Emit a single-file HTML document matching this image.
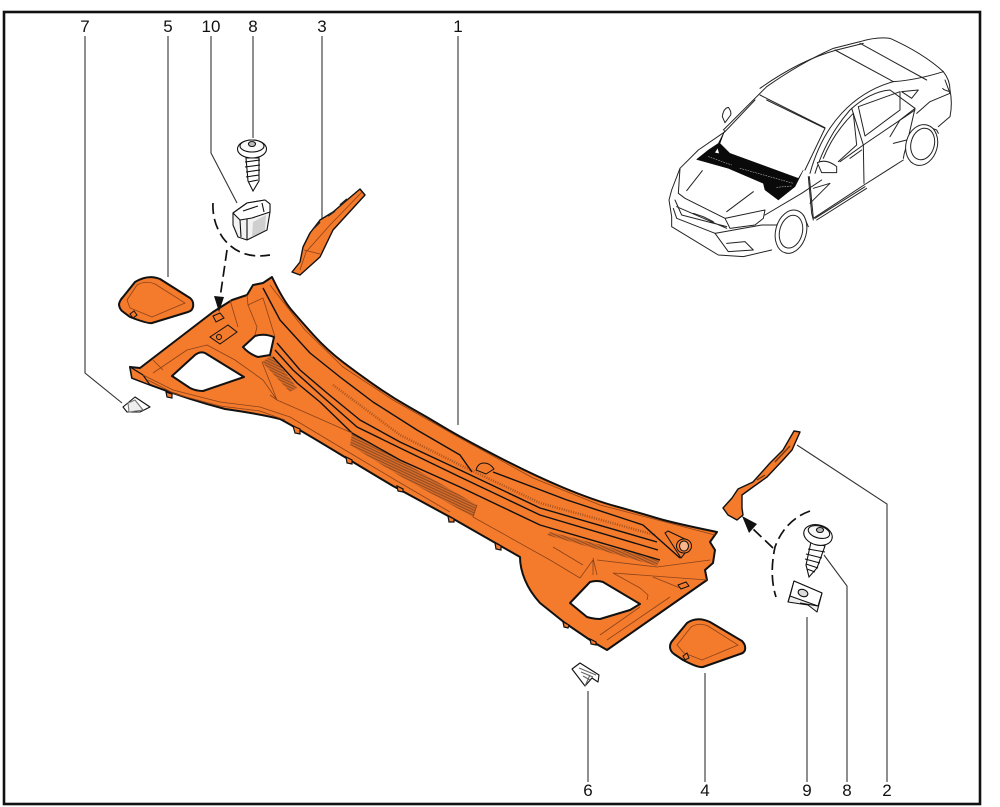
<!DOCTYPE html>
<html>
<head>
<meta charset="utf-8">
<style>
html,body{margin:0;padding:0;background:#fff;width:1000px;height:807px;overflow:hidden}
svg{display:block}
text{font-family:"Liberation Sans",sans-serif;font-size:17px;fill:#111;text-anchor:middle}
</style>
</head>
<body>
<svg width="1000" height="807" viewBox="0 0 1000 807" xmlns="http://www.w3.org/2000/svg">
<defs>
<pattern id="h" width="2.4" height="2.4" patternUnits="userSpaceOnUse" patternTransform="rotate(25)">
<rect width="2.4" height="2.4" fill="#d56a28"/><rect width="2.4" height=".9" fill="#8a4a22"/>
</pattern>
</defs>
<rect width="1000" height="807" fill="#fff"/>
<rect x="4" y="12" width="976" height="792" fill="none" stroke="#111" stroke-width="2.6"/>

<!-- labels -->
<text x="85" y="32">7</text><text x="168" y="32">5</text><text x="211" y="32">10</text>
<text x="253" y="32">8</text><text x="322" y="32">3</text><text x="458" y="32">1</text>
<text x="588" y="796">6</text><text x="705" y="796">4</text><text x="807" y="796">9</text>
<text x="847" y="796">8</text><text x="887" y="796">2</text>

<!-- leaders -->
<g fill="none" stroke="#333" stroke-width="1.1">
<path d="M85 36V373L122 403"/>
<path d="M168 36V277"/>
<path d="M211 36V153L237 203"/>
<path d="M253 36V138"/>
<path d="M322 36V219"/>
<path d="M458 36V425"/>
<path d="M588 782V691"/>
<path d="M705 782V673"/>
<path d="M807 782V617"/>
<path d="M847 782V586L824 555"/>
<path d="M887 782V504L797 445"/>
</g>

<!-- main cowl panel -->
<path fill="#f47a2c" fill-rule="evenodd" stroke="#111" stroke-width="2" stroke-linejoin="round" d="M130 367L140 368L213 312L232 300L247 295L253 285L263 283L272 277Q283 300 291.5 310Q300 320 313.5 335Q327 350 343.5 362.5Q360 375 376.5 386.5Q393 398 410 407.5Q427 417 443.5 427Q460 437 496.5 456Q533 475 563 487.5Q593 500 616.5 506.5Q640 513 656.5 518Q673 523 717 532L710 542L715 550L713 563L705 570L707 580L607 650L593 642L565 623L540 603Q530 592 525 580Q520 568 520 557L450 517L393 486L343 456Q297 428 280 419Q260 414 225 409Q190 400 153 386L132 378Z
M172 376L195 355Q200 351 205 353L244 377L203 391Q196 391 190 388Z
M243 347L255 336Q264 333 274 337L270 355L258 357Q249 354 243 347Z
M570 603L590 582Q597 580 603 582L640 604L630 610L600 619Q594 619 587 617Z"/>

<!-- tabs on lower edge -->
<g fill="#f47a2c" stroke="#111" stroke-width="1.2">
<path d="M293 426L295 433L300 434L300 429Z"/>
<path d="M346 457L347 463L352 464L352 460Z"/>
<path d="M397 486L398 491L403 492L403 489Z"/>
<path d="M448 516L449 522L454 522L454 519Z"/>
<path d="M495 543L496 549L501 550L501 546Z"/>
<path d="M563 622L564 627L568 628L569 625Z"/>
<path d="M590 639L591 644L596 645L596 642Z"/>
<path d="M166 392L167 397L172 398L172 394Z"/>
<path d="M130 367L132 378L150 385L143 375Z"/>
</g>

<!-- hatch areas -->
<path fill="url(#h)" d="M547 535L550 532L660 560L657 566Z"/>
<path fill="url(#h)" d="M352 433L400 460L477 505L473 517L400 476L350 445Z"/>
<path fill="url(#h)" d="M262 362L272 355L297 388L290 392Z"/>

<!-- dotted bands -->
<g fill="none" stroke="#a9551f" stroke-width="2.6" stroke-dasharray="1 1.4">
<path d="M333 385L400 435L460 465L540 503L655 535"/>
</g>

<!-- panel black grooves -->
<g fill="none" stroke="#111" stroke-width="1.4" stroke-linejoin="round">
<path d="M263 288L280 320L310 353L340 377L373 402L417 430L460 455L472 472"/>
<path d="M493 472L567 500L643 525L680 558"/>
<path d="M277 343L300 370L327 393L360 420L400 442L460 470L540 508L657 542"/>
<path d="M275 350L293 370L323 397L357 427L400 448L460 477L540 515L658 550"/>
<path d="M273 357L297 383L320 402L352 433L400 460L460 487L540 525L660 560"/>
</g>
<!-- thin orange lines -->
<g fill="none" stroke="#8a431a" stroke-width=".8" stroke-linejoin="round">
<path d="M270 285L305 330L343 367L393 400L460 438L533 478L600 505L715 535"/>
<path d="M153 373L187 350L207 345L235 360L263 380L277 400L352 433"/>
<path d="M163 370L153 360"/>
<path d="M143 375L173 390L220 402L260 407L290 417L350 453L397 481L450 512"/>
<path d="M148 380L175 394L220 406L260 411L285 420"/>
<path d="M247 295L248 305L263 298L275 337"/>
<path d="M230 300L238 327M248 305L257 327L255 335"/>
<path d="M262 362L277 400L270 395"/>
<path d="M553 547L583 565M550 560L580 578L593 560V575M593 558L597 575M597 560L657 567L710 560"/>
<path d="M613 573L640 588L648 595L647 600M613 573L707 580M653 577L680 588"/>
<path d="M600 635L640 607M607 640L670 597"/>
<path d="M477 505L473 517L550 560"/>
</g>
<g fill="#f47a2c" stroke="#111" stroke-width="1">
<path d="M476 470Q478 463 484 463Q490 463 494 469L486 474Z"/>
<path d="M665 533L668 531L687 540L690 547L681 558Z"/>
<ellipse cx="684" cy="546" rx="7.5" ry="7"/>
<ellipse cx="684" cy="546" rx="4.5" ry="5" fill="#f9b68a"/>
<path d="M213 316L220 313L224 318L216 322Z"/>
<path d="M210 337L228 325L237 332L220 344Z"/>
<path d="M678 585L686 582L689 586L681 589Z"/>
</g>
<circle cx="219" cy="337" r="2.5" fill="none" stroke="#111" stroke-width="1"/>

<!-- cover 5 -->
<path fill="#f47a2c" stroke="#111" stroke-width="2" stroke-linejoin="round" d="M119 304Q120 300 123 297L135 282Q148 274 160 279L190 298Q194 301 193 307Q192 311 188 312L152 323Q148 324 130 317L122 311Q119 308 119 304Z"/>
<path fill="none" stroke="#8a431a" stroke-width=".8" d="M127 300L137 285Q146 280 155 284L185 303L152 317L130 308Z"/>
<path fill="#f47a2c" stroke="#111" d="M130 314L134 311L137 315L133 318Z"/>

<!-- cover 4 -->
<path fill="#f47a2c" stroke="#111" stroke-width="2" stroke-linejoin="round" d="M670 647Q670 643 673 640L687 623Q697 616 710 622L742 641Q746 645 745 650Q744 653 740 654L703 667Q698 668 683 660L674 654Q670 651 670 647Z"/>
<path fill="none" stroke="#8a431a" stroke-width=".8" d="M677 645L691 627Q699 622 708 626L738 645L702 660L684 653Z"/>
<path fill="#f47a2c" stroke="#111" d="M683 656L687 653L689 658L685 660Z"/>

<!-- part 3 -->
<path fill="#f47a2c" stroke="#111" stroke-width="1.4" stroke-linejoin="round" d="M360 189L365 195L333 230L320 257L300 275L292 272L300 262L303 247L310 233L320 220L333 212L347 200Z"/>
<path fill="none" stroke="#8a431a" stroke-width=".8" d="M362 192L330 225L306 252L300 270M304 250L320 254"/>
<path fill="none" stroke="#222" stroke-width="1.6" d="M347 199L340 205M335 211L328 216M320 222L314 228"/>

<!-- part 2 -->
<path fill="#f47a2c" stroke="#111" stroke-width="1.4" stroke-linejoin="round" d="M794 431L800 432L792 450L783 460L767 477L753 487L742 495L742 508L743 515L737 520L728 515L723 508L732 498L738 489L753 482L770 463L783 450Z"/>
<path fill="none" stroke="#6e3416" stroke-width="1.3" d="M790 446L775 462M765 475L757 480"/>

<!-- dashed arcs and arrows -->
<g fill="none" stroke="#111" stroke-width="1.7" stroke-dasharray="11 5">
<path d="M213 203Q212 222 223 238Q240 260 270 255"/>
<path d="M227 250L220 298"/>
<path d="M810 511Q785 520 775 547Q769 575 776 597"/>
<path d="M773 548L751 527"/>
</g>
<path fill="#111" d="M219 312L214 296L224 297Z"/>
<path fill="#111" d="M742 516L757 524L749 533Z"/>

<!-- clip 10 -->
<g stroke="#111" stroke-width="1.1" stroke-linejoin="round">
<path fill="#f2f2f2" d="M233 213L247 203L265 200L270 204L270 212L267 230L247 240L238 237L233 225Z"/>
<path fill="#fff" d="M233 213L247 203L265 200L270 204L270 212L252 218L240 220Z"/>
<path fill="#cfcfcf" stroke="none" d="M253 222L266 215L265 230L252 237Z"/>
<path fill="none" d="M240 220L241 237M247 219L247 240M243 211L258 206M262 203L264 212"/>
</g>

<!-- screw top -->
<g stroke="#111" stroke-width="1.1">
<path fill="#fff" d="M246 158H259L259 181L253 191L248 181Z"/>
<path fill="none" d="M245 162L260 160M245 167L260 165M246 172L260 170M246 177L259 175M248 182L258 180"/>
<ellipse cx="252" cy="149" rx="14.5" ry="9" fill="#fff"/>
<ellipse cx="252" cy="146" rx="12" ry="6" fill="#f8f8f8"/>
<ellipse cx="252" cy="144" rx="3.5" ry="2.5" fill="#bbb"/>
</g>

<!-- screw bottom -->
<g stroke="#111" stroke-width="1.1">
<path fill="#fff" d="M811 542L825 546L817 568L809 577L806 565Z"/>
<path fill="none" d="M808 549L825 552M806 554L822 558M805 559L820 563M806 564L818 568M807 569L815 572"/>
<ellipse cx="818" cy="535" rx="14.5" ry="10" fill="#fff" transform="rotate(15 818 535)"/>
<ellipse cx="819" cy="532" rx="11" ry="6" fill="#f8f8f8" transform="rotate(15 819 532)"/>
<ellipse cx="820" cy="530" rx="3.5" ry="2.5" fill="#bbb"/>
</g>

<!-- nut 9 -->
<g stroke="#111" stroke-width="1.1" stroke-linejoin="round">
<path fill="#eee" d="M794 581L822 593L817 612L808 605L788 602Z"/>
<path fill="#fff" d="M794 581L822 593L818 606L790 596Z"/>
<ellipse cx="803" cy="593" rx="5" ry="3.5" fill="#ddd" transform="rotate(20 803 593)"/>
<path fill="none" d="M790 596L788 602M800 603L818 606"/>
</g>

<!-- clip 6 -->
<g stroke="#111" stroke-width="1.1" stroke-linejoin="round">
<path fill="#fff" d="M572 669L580 663L599 675L598 682L592 678L585 686Z"/>
<path fill="none" stroke="#666" d="M579 668L596 675M581 672L593 677M583 676L590 680M585 686L590 675"/>
</g>

<!-- clip 7 -->
<g stroke="#111" stroke-width="1.1" stroke-linejoin="round">
<path fill="#fff" d="M123 407L135 397L150 407L140 412L127 412Z"/>
<path fill="#eee" stroke="#777" d="M128 403L129 412L143 410L135 400Z"/>
</g>

<!-- car inset: rear and roof -->
<g transform="translate(660 30) scale(.33333)" fill="none" stroke="#222" stroke-width="3" stroke-linejoin="round" stroke-linecap="round">
<path d="M190 300L320 170Q420 100 520 55L600 35Q650 20 690 25Q790 70 850 125Q870 150 870 180Q878 220 870 260L835 290"/>
<path d="M300 175Q420 90 530 60L610 40"/>
<path d="M300 195L495 293"/>
<path d="M525 60L700 155"/>
<path d="M600 40L800 150"/>
<path d="M450 430Q480 320 545 250Q610 180 700 155Q770 150 850 125"/>
<path d="M465 430Q500 320 570 240Q630 185 690 180L765 235L740 345"/>
<path d="M595 230L720 185L720 240L615 318Z"/>
<path d="M575 235L610 345L612 460"/>
<path d="M490 385Q520 310 580 250L590 345L535 395"/>
<path d="M448 440L460 565L612 465L730 390"/>
<path d="M465 565L615 470M470 570L620 475"/>
<path d="M450 520L510 460L460 475"/>
<path d="M540 395L610 345L765 240"/>
<path d="M570 385L605 360M700 340L740 330M690 320L720 270L765 235M720 270L750 250"/>
<path d="M725 185L775 180L755 205Z"/>
<path d="M855 150L870 190L810 215L770 250"/>
<path d="M870 185Q850 180 848 175"/>
<path d="M730 385Q740 320 790 285L830 300L835 310"/>
<path fill="#fff" d="M472 398Q500 385 530 410L530 428L485 428Z"/>
<ellipse cx="785" cy="345" rx="47" ry="62" transform="rotate(15 785 345)" fill="#fff"/>
<ellipse cx="788" cy="342" rx="35" ry="48" transform="rotate(15 788 342)"/>
</g>

<!-- car inset: front -->
<g transform="translate(665 100) scale(.33333)" fill="none" stroke="#222" stroke-width="3" stroke-linejoin="round" stroke-linecap="round">
<path d="M45 205L100 150L180 95L270 0"/>
<path d="M45 205L20 270L12 300L20 350L20 380L160 465L235 470L320 450"/>
<path d="M45 205L40 280L60 295L180 355L300 330L295 355L270 375L195 385L180 355"/>
<path d="M30 300L50 345L185 380M35 320L185 385"/>
<path d="M25 325L35 355L150 400"/>
<path d="M150 400L290 375L335 375"/>
<path d="M150 400L190 455L265 450L240 425L185 430"/>
<path d="M85 340L115 350L145 365"/>
<path d="M65 272L112 212M185 335L265 275"/>
<path d="M300 345L410 280L470 240"/>
<path d="M305 0L480 85L420 210"/>
<path d="M335 375Q370 325 415 345L430 380"/>
<path d="M430 230L440 340L445 360"/>
<path fill="#fff" d="M172 50Q175 25 190 22Q200 35 197 45L180 68Z"/>
<ellipse cx="378" cy="395" rx="46" ry="66" transform="rotate(15 378 395)" fill="#fff"/>
<ellipse cx="378" cy="395" rx="34" ry="50" transform="rotate(15 378 395)"/>
<path fill="#0a0a0a" stroke="#0a0a0a" stroke-width="1.5" d="M95 178L130 150L160 130L180 90L165 130L195 160L400 235L415 210L390 260L340 300L300 270L295 250L190 205Z"/>
<path stroke="#ddd" stroke-width="1.5" stroke-dasharray="4 4" d="M130 170L200 195M225 205L385 250M335 262L380 258"/>
<path fill="#fff" stroke="none" d="M150 158L158 145L162 160Z"/>
</g>
</svg>
</body>
</html>
